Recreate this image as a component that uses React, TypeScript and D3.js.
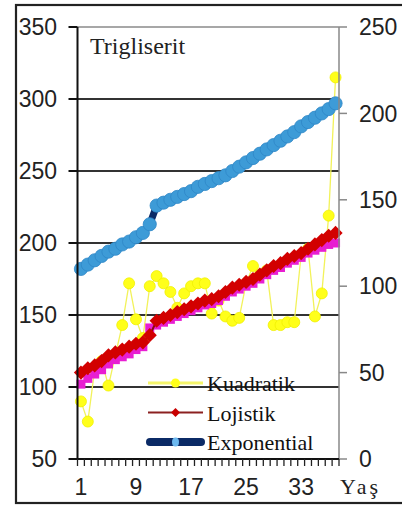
import * as d3 from 'd3';

// x categories (age groups)
const ages = [1, 2, 3, 4, 5, 6, 7, 8, 9, 10, 11, 12, 13, 14, 15, 16, 17, 18, 19, 20, 21, 22, 23, 24, 25, 26, 27, 28, 29, 30, 31, 32, 33, 34, 35, 36, 37, 38];
const xTickLabels = [1, 9, 17, 25, 33];

// series values (left axis units)
const kuadratik = [90, 76, 112, 118, 101, 122, 143, 172, 147, 134, 170, 177, 172, 166, 155, 165, 170, 172, 172, 151, 160, 149, 146, 148, 172, 184, 178, 181, 143, 143, 145, 145, 192, 196, 149, 165, 219, 315];
const lojistik = [110, 113, 115, 118, 122, 124, 126, 128, 130, 131, 136, 146, 148, 150, 152, 154, 156, 158, 160, 161, 163, 166, 169, 171, 173, 175, 178, 181, 184, 186, 189, 191, 193, 196, 199, 202, 205, 207];
const olcum = [102, 106, 109, 112, 116, 119, 121, 123, 126, 128, 141, 143, 145, 147, 149, 151, 153, 155, 157, 158, 160, 163, 166, 168, 170, 172, 175, 178, 181, 183, 186, 188, 190, 193, 195, 197, 199, 200];
const exponential = [182, 185, 188, 191, 194, 196, 199, 201, 204, 207, 213, 226, 228, 230, 232, 234, 236, 239, 241, 243, 245, 247, 250, 253, 256, 259, 262, 265, 268, 271, 274, 277, 281, 284, 287, 290, 293, 297];

const leftTicks = [50, 100, 150, 200, 250, 300, 350];
const rightTicks = [0, 50, 100, 150, 200, 250];
const gridValues = [100, 150, 200, 250, 300, 350];

const legendItems = [
  { name: 'Kuadratik', key: 'k' },
  { name: 'Lojistik', key: 'l' },
  { name: 'Exponential', key: 'e' },
];

const W = 402;
const H = 506;
const plot = { left: 77.5, right: 339, top: 27, bottom: 459 };
const SANS = '"Liberation Sans", Arial, sans-serif';
const SERIF = '"Liberation Serif", "Times New Roman", serif';

export default function App() {
  const x = d3.scaleBand<number>().domain(ages).range([plot.left, plot.right]);
  const cx = (a: number) => (x(a) ?? 0) + x.bandwidth() / 2;
  const yL = d3.scaleLinear().domain([50, 350]).range([plot.bottom, plot.top]);
  const yR = d3.scaleLinear().domain([0, 250]).range([plot.bottom, plot.top]);

  const linePath = (vals: number[]) =>
    d3
      .line<number>()
      .x((_, i) => cx(ages[i]))
      .y((v) => yL(v))(vals) ?? '';

  const diamond = d3.symbol(d3.symbolSquare, 100)() ?? '';
  const magentaSquare = d3.symbol(d3.symbolSquare, 81)() ?? '';
  const legendDiamond = d3.symbol(d3.symbolSquare, 40)() ?? '';

  // boundaries between categories for x ticks
  const xBounds = [...ages.map((a) => x(a) ?? 0), plot.right];

  const legendY = d3.scalePoint<string>().domain(legendItems.map((d) => d.key)).range([383, 442]);

  return (
    <svg width={W} height={H} style={{ position: 'absolute', left: 0, top: 0, background: '#fff' }}>
      <rect x={0} y={0} width={W} height={H} fill="#fff" />
      <rect x={16} y={5} width={400} height={498} fill="none" stroke="#222" strokeWidth={2.2} />

      {/* gridlines */}
      {gridValues.map((v) => (
        <line
          key={v}
          x1={plot.left}
          x2={plot.right}
          y1={yL(v)}
          y2={yL(v)}
          stroke={v === 350 ? '#8a8a8a' : '#333'}
          strokeWidth={v === 350 ? 1.5 : 2}
        />
      ))}

      {/* Kuadratik */}
      <path d={linePath(kuadratik)} fill="none" stroke="#f2f25a" strokeWidth={1.3} />
      {kuadratik.map((v, i) => (
        <circle key={i} cx={cx(ages[i])} cy={yL(v)} r={5.5} fill="#ffff1a" stroke="#f0f000" strokeWidth={0.8} />
      ))}

      {/* measured values (under Lojistik) */}
      {olcum.map((v, i) => (
        <path key={i} d={magentaSquare} transform={`translate(${cx(ages[i])},${yL(v)})`} fill="#e81ed2" />
      ))}

      {/* Lojistik */}
      <path d={linePath(lojistik)} fill="none" stroke="#8b0a0a" strokeWidth={2} />
      {lojistik.map((v, i) => (
        <path key={i} d={diamond} transform={`translate(${cx(ages[i])},${yL(v)}) rotate(45)`} fill="#d20000" />
      ))}

      {/* Exponential */}
      <path d={linePath(exponential)} fill="none" stroke="#0b2a66" strokeWidth={7} />
      {exponential.map((v, i) => (
        <circle key={i} cx={cx(ages[i])} cy={yL(v)} r={6.6} fill="#3d9bd7" stroke="#2f86c6" strokeWidth={0.8} />
      ))}

      {/* left axis */}
      <line x1={plot.left} x2={plot.left} y1={plot.top} y2={plot.bottom} stroke="#111" strokeWidth={2} />
      {leftTicks.map((v) => (
        <g key={v}>
          <line x1={plot.left - 9} x2={plot.left} y1={yL(v)} y2={yL(v)} stroke="#111" strokeWidth={2} />
          <text x={57} y={yL(v)} dy="0.36em" textAnchor="end" fontFamily={SANS} fontSize={23} fill="#222">
            {v}
          </text>
        </g>
      ))}

      {/* right axis */}
      <line x1={plot.right} x2={plot.right} y1={plot.top} y2={plot.bottom} stroke="#888" strokeWidth={1.5} />
      {rightTicks.map((v) => (
        <g key={v}>
          <line x1={plot.right} x2={plot.right + 8} y1={yR(v)} y2={yR(v)} stroke="#888" strokeWidth={1.5} />
          <text x={359} y={yR(v)} dy="0.36em" textAnchor="start" fontFamily={SANS} fontSize={23} fill="#222">
            {v}
          </text>
        </g>
      ))}

      {/* x axis */}
      <line x1={plot.left} x2={plot.right} y1={plot.bottom} y2={plot.bottom} stroke="#111" strokeWidth={2} />
      {xBounds.map((bx, i) => (
        <line key={i} x1={bx} x2={bx} y1={plot.bottom} y2={plot.bottom + 7} stroke="#222" strokeWidth={1.3} />
      ))}
      {xTickLabels.map((a) => (
        <text key={a} x={cx(a)} y={495} textAnchor="middle" fontFamily={SANS} fontSize={23} fill="#222">
          {a}
        </text>
      ))}
      <text x={340} y={494} fontFamily={SERIF} fontSize={22} letterSpacing={3} fill="#222">
        Yaş
      </text>

      {/* title */}
      <text x={90} y={54} fontFamily={SERIF} fontSize={24} fill="#222">
        Trigliserit
      </text>

      {/* legend */}
      {legendItems.map((item) => {
        const ly = legendY(item.key) ?? 0;
        return (
          <g key={item.key}>
            {item.key === 'k' && (
              <>
                <line x1={148} x2={203} y1={ly} y2={ly} stroke="#f5f56a" strokeWidth={3} />
                <circle cx={175.5} cy={ly} r={4.5} fill="#ffff1a" />
              </>
            )}
            {item.key === 'l' && (
              <>
                <line x1={148} x2={203} y1={ly} y2={ly} stroke="#8b2020" strokeWidth={2} />
                <path d={legendDiamond} transform={`translate(175.5,${ly}) rotate(45)`} fill="#c80000" />
              </>
            )}
            {item.key === 'e' && (
              <>
                <line x1={150} x2={201} y1={ly} y2={ly} stroke="#0b2a66" strokeWidth={8} strokeLinecap="round" />
                <ellipse cx={175.5} cy={ly} rx={3.5} ry={4.5} fill="#6cb9f0" />
              </>
            )}
            <text x={207} y={ly + 8} fontFamily={SERIF} fontSize={22} fill="#111">
              {item.name}
            </text>
          </g>
        );
      })}
    </svg>
  );
}
